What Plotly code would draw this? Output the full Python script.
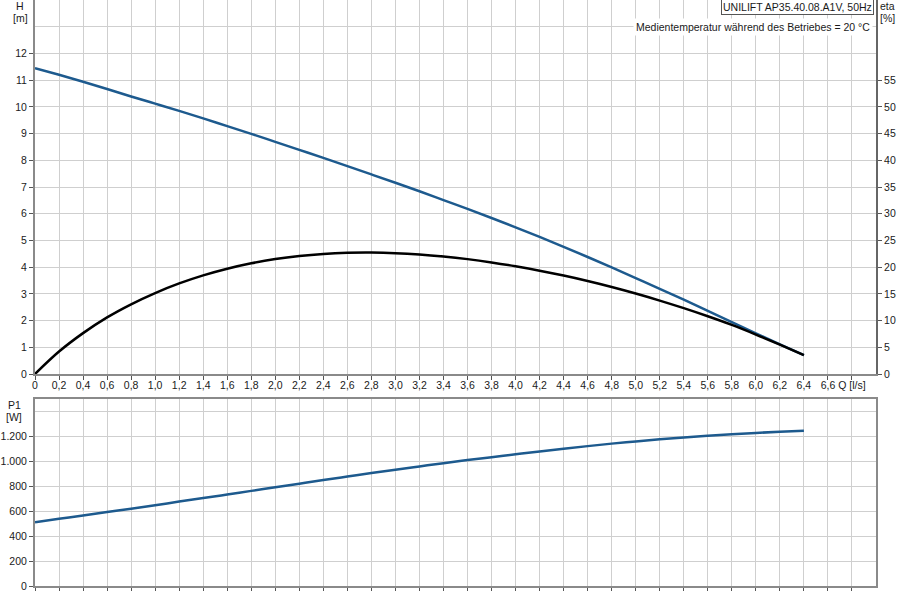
import plotly.graph_objs as go

# flow rate Q [l/s]
q = [0.0, 0.2, 0.4, 0.6, 0.8, 1.0, 1.2, 1.4, 1.6, 1.8, 2.0, 2.2, 2.4, 2.6, 2.8, 3.0,
     3.2, 3.4, 3.6, 3.8, 4.0, 4.2, 4.4, 4.6, 4.8, 5.0, 5.2, 5.4, 5.6, 5.8, 6.0, 6.2, 6.4]

# head H [m]
head = [11.45, 11.20, 10.94, 10.67, 10.39, 10.12, 9.85, 9.57, 9.28, 8.99, 8.69, 8.39,
        8.09, 7.78, 7.47, 7.16, 6.84, 6.51, 6.18, 5.84, 5.49, 5.13, 4.76, 4.38, 3.99,
        3.59, 3.19, 2.78, 2.36, 1.94, 1.52, 1.11, 0.71]

# efficiency eta [%]
eta = [0.0, 4.2, 7.65, 10.6, 13.05, 15.15, 16.95, 18.45, 19.7, 20.72, 21.52, 22.1,
       22.48, 22.68, 22.72, 22.62, 22.38, 22.0, 21.5, 20.88, 20.16, 19.34, 18.42, 17.4,
       16.28, 15.06, 13.74, 12.32, 10.8, 9.18, 7.38, 5.48, 3.53]

# power input P1 [W]
p1 = [512, 539, 566, 593, 620, 648, 677, 705, 734, 763, 792, 821, 850, 878, 906, 933,
      959, 985, 1010, 1033, 1056, 1079, 1101, 1122, 1142, 1160, 1177, 1192, 1205, 1217,
      1228, 1237, 1245]

q_ticks = [0.0, 0.2, 0.4, 0.6, 0.8, 1.0, 1.2, 1.4, 1.6, 1.8, 2.0, 2.2, 2.4, 2.6, 2.8,
           3.0, 3.2, 3.4, 3.6, 3.8, 4.0, 4.2, 4.4, 4.6, 4.8, 5.0, 5.2, 5.4, 5.6, 5.8,
           6.0, 6.2, 6.4, 6.6, 6.8]
q_labels = ['0', '0,2', '0,4', '0,6', '0,8', '1,0', '1,2', '1,4', '1,6', '1,8', '2,0',
            '2,2', '2,4', '2,6', '2,8', '3,0', '3,2', '3,4', '3,6', '3,8', '4,0', '4,2',
            '4,4', '4,6', '4,8', '5,0', '5,2', '5,4', '5,6', '5,8', '6,0', '6,2', '6,4',
            '6,6', 'Q [l/s]']
h_ticks = [0, 1, 2, 3, 4, 5, 6, 7, 8, 9, 10, 11, 12]
eta_ticks = [0, 5, 10, 15, 20, 25, 30, 35, 40, 45, 50, 55]
p1_ticks = [0, 200, 400, 600, 800, 1000, 1200]
p1_labels = ['0', '200', '400', '600', '800', '1.000', '1.200']

FONT = 'Liberation Sans, Arial, sans-serif'
FSIZE = 10.5
BLUE = '#1d5a8e'
GRID = '#cfcfcf'
AXIS = '#8a8a8a'


def pix_x(px):
    # plot area spans 35..876 px horizontally
    return (px - 35) / 841.0


def pix_y(py):
    # plot area spans 0..586 px vertically
    return (586 - py) / 586.0


def build_figure():
    traces = [
        go.Scatter(x=q, y=head, mode='lines', line=dict(color=BLUE, width=2.5, shape='spline'),
                   xaxis='x', yaxis='y', name='H'),
        go.Scatter(x=q, y=eta, mode='lines', line=dict(color='#000000', width=2.5, shape='spline'),
                   xaxis='x', yaxis='y2', name='eta'),
        go.Scatter(x=q, y=p1, mode='lines', line=dict(color=BLUE, width=2.5, shape='spline'),
                   xaxis='x2', yaxis='y3', name='P1'),
    ]

    tick_font = dict(family=FONT, size=FSIZE, color='#1a1a1a')
    top_dom = [pix_y(374), 1.0]
    bot_dom = [0.0, pix_y(399)]

    layout = go.Layout(
        width=900, height=600,
        margin=dict(l=35, r=24, t=0, b=14),
        paper_bgcolor='white', plot_bgcolor='white',
        showlegend=False,
        font=dict(family=FONT, size=FSIZE, color='#1a1a1a'),
        xaxis=dict(
            domain=[0, 1], range=[0, 7], anchor='y',
            tickmode='array', tickvals=q_ticks, ticktext=q_labels,
            ticks='outside', ticklen=4, tickcolor='#555', tickfont=tick_font,
            ticklabelstandoff=-4,
            showgrid=True, gridcolor=GRID, gridwidth=1,
            showline=True, linecolor=AXIS, linewidth=2, zeroline=False,
        ),
        yaxis=dict(
            domain=top_dom, range=[0, 14], anchor='x',
            tickmode='array', tickvals=h_ticks,
            ticks='outside', ticklen=4, tickcolor='#555', tickfont=tick_font,
            showgrid=True, gridcolor=GRID, gridwidth=1,
            minor=dict(tickvals=[13], showgrid=True, gridcolor=GRID, ticks=''),
            showline=True, linecolor=AXIS, linewidth=2, zeroline=False,
        ),
        yaxis2=dict(
            overlaying='y', side='right', anchor='x', range=[0, 70],
            tickmode='array', tickvals=eta_ticks,
            ticks='outside', ticklen=4, tickcolor='#555', tickfont=tick_font,
            showgrid=False, showline=True, linecolor='#666', linewidth=2, zeroline=False,
        ),
        xaxis2=dict(
            domain=[0, 1], range=[0, 7], anchor='y3', matches='x',
            tickmode='array', tickvals=q_ticks, showticklabels=False,
            ticks='outside', ticklen=3, tickcolor='#555',
            showgrid=True, gridcolor=GRID, gridwidth=1,
            showline=True, linecolor=AXIS, linewidth=2, mirror=True, zeroline=False,
        ),
        yaxis3=dict(
            domain=bot_dom, range=[0, 1500], anchor='x2',
            tickmode='array', tickvals=p1_ticks, ticktext=p1_labels,
            ticks='outside', ticklen=4, tickcolor='#555', tickfont=tick_font,
            showgrid=True, gridcolor=GRID, gridwidth=1,
            minor=dict(tickvals=[1400], showgrid=True, gridcolor=GRID, ticks=''),
            showline=True, linecolor=AXIS, linewidth=2, mirror=True, zeroline=False,
        ),
    )

    fig = go.Figure(data=traces, layout=layout)

    labels = [
        ('H', 20, 6), ('[m]', 20, 18),
        ('eta', 887, 6), ('[%]', 887, 18),
        ('P1', 14, 405), ('[W]', 14, 417),
    ]
    for txt, px, py in labels:
        fig.add_annotation(text=txt, xref='paper', yref='paper', x=pix_x(px), y=pix_y(py),
                           xanchor='center', yanchor='middle', showarrow=False,
                           font=dict(family=FONT, size=FSIZE, color='#1a1a1a'))

    fig.add_annotation(text='UNILIFT AP35.40.08.A1V, 50Hz', xref='paper', yref='paper',
                       x=pix_x(874), y=pix_y(-1), xanchor='right', yanchor='top',
                       showarrow=False, bgcolor='white', bordercolor='#555',
                       borderwidth=1, borderpad=1,
                       font=dict(family=FONT, size=FSIZE, color='#1a1a1a'))
    fig.add_annotation(text='Medientemperatur während des Betriebes = 20 °C',
                       xref='paper', yref='paper', x=pix_x(873), y=pix_y(27),
                       xanchor='right', yanchor='middle', showarrow=False,
                       bgcolor='white', borderpad=2,
                       font=dict(family=FONT, size=FSIZE, color='#1a1a1a'))
    return fig


def main():
    fig = build_figure()
    # drop the default body margin so the 900x600 figure fills the window
    fig.write_html('out.html', config={'displayModeBar': False},
                   post_script="document.body.style.margin='0';")


if __name__ == '__main__':
    main()
